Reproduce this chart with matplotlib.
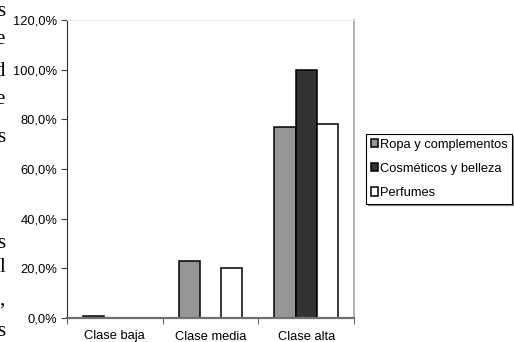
import matplotlib.pyplot as plt
from matplotlib.ticker import FuncFormatter

plt.rcParams['font.family'] = ['Liberation Sans', 'DejaVu Sans']

categorias = ["Clase baja", "Clase media", "Clase alta"]
series = ["Ropa y complementos", "Cosméticos y belleza", "Perfumes"]
ropa = [0.8, 22.8, 76.9]
cosmeticos = [0.0, 0.0, 100.0]
perfumes = [0.0, 20.3, 78.1]
colores = ["#969696", "#333333", "#ffffff"]

# trozos de texto del documento que asoman por el borde izquierdo
margen_txt = ["s", "e", "d", "e", "s", "s", "l", ",", "s"]
margen_y = [12, 40, 71, 100, 137, 243, 268, 300, 331]

fig = plt.figure(figsize=(5.14, 3.42), dpi=100)
ax = fig.add_axes([67 / 514, 24 / 342, 287 / 514, 298 / 342])

ancho = 1 / 4.5
x = list(range(len(categorias)))
for k, (nombre, valores) in enumerate(zip(series, [ropa, cosmeticos, perfumes])):
    pos = [xi + (k - 1) * ancho for xi in x]
    ax.bar(pos, valores, width=ancho, color=colores[k], edgecolor="black",
           linewidth=1.1, label=nombre, zorder=1)

ax.set_xlim(-0.5, 2.5)
ax.set_ylim(0, 120)
ax.set_yticks(range(0, 121, 20))
ax.yaxis.set_major_formatter(FuncFormatter(lambda v, _: f"{v:.1f}%".replace(".", ",")))
ax.set_xticks(x)
ax.set_xticklabels(categorias)
ax.set_xticks([-0.5, 0.5, 1.5, 2.5], minor=True)
ax.tick_params(axis="x", which="major", length=0, pad=9, labelsize=9.3)
ax.tick_params(axis="x", which="minor", length=4, direction="out", color="#404040")
ax.tick_params(axis="y", length=4, direction="out", labelsize=9.3, pad=3, color="#404040")

ax.spines["left"].set_color("#303030")
ax.spines["bottom"].set_color("#707070")
ax.spines["bottom"].set_linewidth(1.6)
ax.spines["right"].set_color("#a6a6a6")
ax.spines["right"].set_linewidth(1.2)
ax.spines["top"].set_color("#e8e8e8")

leg = fig.legend(loc="upper left", bbox_to_anchor=(366 / 514, 1 - 134 / 342),
                 fontsize=9.3, frameon=True, fancybox=False,
                 shadow={"ox": 1.2, "oy": -1.2, "color": "#808080", "alpha": 1},
                 handlelength=0.6, handleheight=0.6, handletextpad=0.1,
                 labelspacing=0.95, borderpad=0.35, borderaxespad=0)
leg.get_frame().set_edgecolor("black")
leg.get_frame().set_linewidth(0.8)
leg.get_frame().set_alpha(1)

for t, yy in zip(margen_txt, margen_y):
    fig.text(5 / 514, 1 - yy / 342, t, ha="right", va="center",
             fontsize=15, family="Liberation Serif")

fig.savefig("out.png", dpi=100)
